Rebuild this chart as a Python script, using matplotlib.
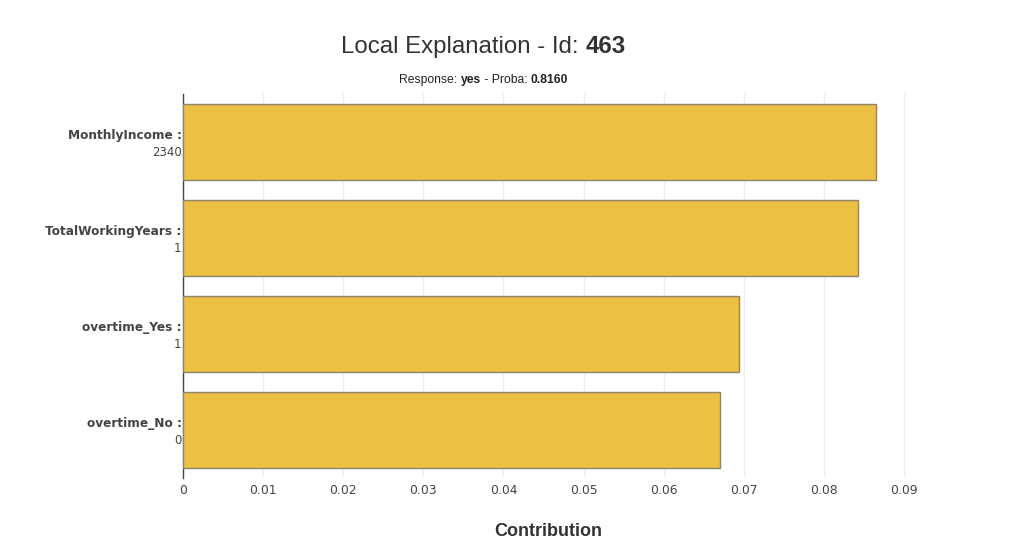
import matplotlib
matplotlib.use("Agg")
import matplotlib.pyplot as plt

features = ["MonthlyIncome", "TotalWorkingYears", "overtime_Yes", "overtime_No"]
feature_values = ["2340", "1", "1", "0"]
contributions = [0.0865, 0.0843, 0.0694, 0.0670]
xticks = [0, 0.01, 0.02, 0.03, 0.04, 0.05, 0.06, 0.07, 0.08, 0.09]
xtick_labels = ["0", "0.01", "0.02", "0.03", "0.04", "0.05", "0.06", "0.07", "0.08", "0.09"]
title_text = "Local Explanation - Id: "
title_id = "463"
response = "yes"
proba = "0.8160"

TXT = "#444444"
fig = plt.figure(figsize=(10.24, 5.43), dpi=100)
ax = fig.add_axes([183/1024, 1 - 478/543, (912-183)/1024, (478-94)/543])

ypos = list(range(len(features)))
ax.barh(ypos, contributions, height=0.8, color="#ECC043", edgecolor="#8c8370", linewidth=1.0, zorder=3)
ax.set_ylim(len(features) - 0.5, -0.5)
ax.set_xlim(0, 0.091)
ax.set_xticks(xticks)
ax.set_xticklabels(xtick_labels, fontsize=8.9, color=TXT, family="DejaVu Sans")
ax.set_yticks([])
ax.tick_params(axis="x", length=0, pad=4)
ax.grid(axis="x", color="#eeeeee", linewidth=1, zorder=0)
for s in ["top", "right", "bottom"]:
    ax.spines[s].set_visible(False)
ax.spines["left"].set_color("#444444")
ax.spines["left"].set_linewidth(1)

for i, (f, v) in enumerate(zip(features, feature_values)):
    ax.annotate(f + " :", xy=(0, i), xycoords=("axes fraction", "data"), xytext=(-1, 5),
                textcoords="offset points", ha="right", va="center", fontsize=8.7,
                fontweight="bold", color=TXT, family="DejaVu Sans")
    ax.annotate(v, xy=(0, i), xycoords=("axes fraction", "data"), xytext=(-1, -7.5),
                textcoords="offset points", ha="right", va="center", fontsize=8.5,
                color=TXT, family="DejaVu Sans")

# Title with bold id
t1 = fig.text(341/1024, 1 - 47/543, title_text, ha="left", va="center", fontsize=17.3,
              color="#333333", family="Liberation Sans")
fig.canvas.draw()
ax.annotate(title_id, xy=(1, 0), xycoords=t1, ha="left", va="bottom", fontsize=17.3,
            fontweight="bold", color="#333333", family="Liberation Sans")

# Subtitle
s1 = fig.text(399/1024, 1 - 80/543, "Response: ", ha="left", va="center", fontsize=8.7,
              color="#222222", family="Liberation Sans")
s2 = ax.annotate(response, xy=(1, 0), xycoords=s1, ha="left", va="bottom", fontsize=8.7,
                 fontweight="bold", color="#222222", family="Liberation Sans")
s3 = ax.annotate(" - Proba: ", xy=(1, 0), xycoords=s2, ha="left", va="bottom", fontsize=8.7,
                 color="#222222", family="Liberation Sans")
ax.annotate(proba, xy=(1, 0), xycoords=s3, ha="left", va="bottom", fontsize=8.7,
            fontweight="bold", color="#222222", family="Liberation Sans")

fig.text(548/1024, 1 - 531/543, "Contribution", ha="center", va="center", fontsize=13,
         fontweight="heavy", color="#333333", family="Liberation Sans")

fig.savefig("out.png", dpi=100)
